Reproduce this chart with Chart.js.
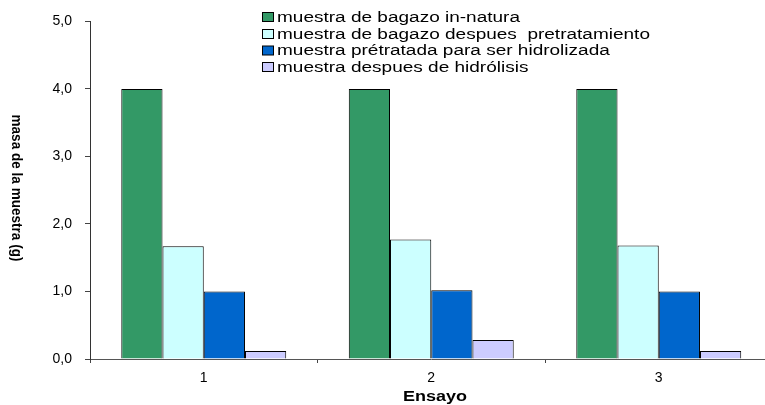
<!DOCTYPE html>
<html>
<head>
<meta charset="utf-8">
<script src="https://cdn.jsdelivr.net/npm/chart.js@4.4.1/dist/chart.umd.min.js"></script>
<style>
  html, body { margin: 0; padding: 0; background: #fff; overflow: hidden; }
  #wrap { position: relative; width: 775px; height: 405px; }
</style>
</head>
<body>
<div id="wrap"><canvas id="c"></canvas></div>
<script>
// Ensayos (trials) and the measured sample masses in grams
const categories = ['1', '2', '3'];
const seriesNames = [
  'muestra de bagazo in-natura',
  'muestra de bagazo despues  pretratamiento',
  'muestra prétratada para ser hidrolizada',
  'muestra despues de hidrólisis'
];
const bagazoInNatura = [4.0, 4.0, 4.0];
const bagazoPretratado = [1.67, 1.77, 1.68];
const pretratadaHidrolizar = [1.0, 1.02, 1.0];
const despuesHidrolisis = [0.12, 0.28, 0.12];
const yTickValues = [0, 1, 2, 3, 4, 5];
const yTitle = 'masa de la muestra (g)';
const xTitle = 'Ensayo';

const colors = ['#339966', '#CCFFFF', '#0066CC', '#CCCCFF'];
const seriesValues = [bagazoInNatura, bagazoPretratado, pretratadaHidrolizar, despuesHidrolisis];
const FONT = "'Liberation Sans', Arial, sans-serif";

// Stacked legend in the top area plus the two axis titles
const decorations = {
  id: 'decorations',
  afterDraw(chart) {
    const ctx = chart.ctx;
    ctx.save();
    ctx.fillStyle = '#000';

    // legend
    ctx.font = '14px ' + FONT;
    const sx = 243 / ctx.measureText(seriesNames[0]).width;
    const rows = [17, 34, 50.5, 67];
    chart.data.datasets.forEach((ds, i) => {
      const y = rows[i];
      ctx.fillStyle = ds.backgroundColor;
      ctx.fillRect(262.5, y - 4.5, 11, 9);
      ctx.strokeStyle = '#000';
      ctx.lineWidth = 1;
      ctx.strokeRect(262.5, y - 4.5, 11, 9);
      ctx.save();
      ctx.translate(277, y);
      ctx.scale(sx, 1);
      ctx.fillStyle = '#000';
      ctx.textAlign = 'left';
      ctx.textBaseline = 'middle';
      ctx.fillText(ds.label, 0, 1);
      ctx.restore();
    });

    // y-axis title, reading downward
    ctx.save();
    ctx.font = 'bold 12px ' + FONT;
    const wy = ctx.measureText(yTitle).width;
    ctx.translate(16, 188);
    ctx.rotate(Math.PI / 2);
    ctx.scale(147 / wy, 1.2);
    ctx.textAlign = 'center';
    ctx.textBaseline = 'middle';
    ctx.fillStyle = '#000';
    ctx.fillText(yTitle, 0, 0);
    ctx.restore();

    // x-axis title
    ctx.save();
    ctx.font = 'bold 14px ' + FONT;
    const wx = ctx.measureText(xTitle).width;
    ctx.translate(435, 397);
    ctx.scale(64 / wx, 1);
    ctx.textAlign = 'center';
    ctx.textBaseline = 'middle';
    ctx.fillStyle = '#000';
    ctx.fillText(xTitle, 0, 0);
    ctx.restore();

    ctx.restore();
  }
};

new Chart(document.getElementById('c'), {
  type: 'bar',
  data: {
    labels: categories,
    datasets: seriesValues.map((vals, i) => ({
      label: seriesNames[i],
      data: vals,
      backgroundColor: colors[i],
      borderColor: '#000',
      borderWidth: 1,
      categoryPercentage: 0.725,
      barPercentage: 1.0
    }))
  },
  options: {
    responsive: true,
    maintainAspectRatio: false,
    animation: false,
    layout: { padding: { left: 0, top: 21, right: 2.5, bottom: 0 } },
    plugins: {
      legend: { display: false },
      tooltip: { enabled: false }
    },
    scales: {
      x: {
        offset: true,
        grid: { display: true, drawOnChartArea: false, offset: true, tickLength: 4, color: '#444' },
        border: { display: true, color: '#555', width: 1 },
        ticks: { color: '#000', font: { family: FONT, size: 14 }, padding: 7 },
        afterFit(s) { s.height = 46; }
      },
      y: {
        min: 0,
        max: 5,
        afterBuildTicks(s) { s.ticks = yTickValues.map(v => ({ value: v })); },
        grid: { display: true, drawOnChartArea: false, tickLength: 5, color: '#444' },
        border: { display: true, color: '#333', width: 1 },
        ticks: {
          color: '#000',
          font: { family: FONT, size: 14 },
          padding: 13,
          callback: v => v.toFixed(1).replace('.', ',')
        },
        afterFit(s) { s.width = 90; }
      }
    }
  },
  plugins: [decorations]
});
</script>
</body>
</html>
